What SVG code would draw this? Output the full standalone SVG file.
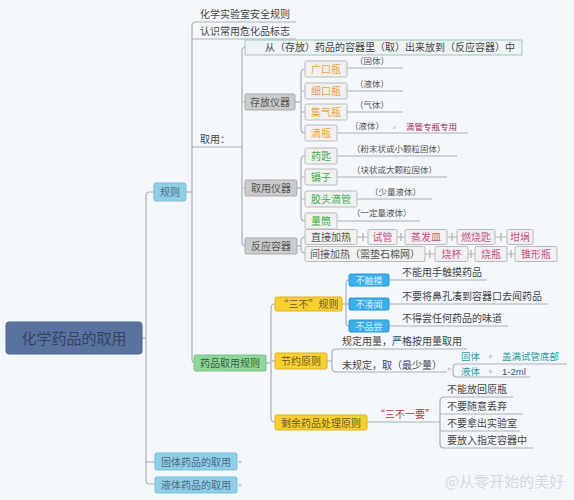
<svg xmlns="http://www.w3.org/2000/svg" width="574" height="500" viewBox="0 0 574 500">
<style>
text{font-family:"Noto Sans CJK SC","Noto Sans",sans-serif;font-size:10px;fill:#444;}
.ln{fill:none;stroke:#a9afb5;stroke-width:1.2;}
.root{fill:#5a72a0;stroke:#4c6492;}
.blue1{fill:#8fcfe8;stroke:#7cbfd8;}
.green1{fill:#8ed79a;stroke:#78c486;}
.yel{fill:#f8d030;stroke:#dcb420;}
.gray{fill:#cbcbcb;stroke:#a9a9a9;}
.item{fill:#f1f1f1;stroke:#b9b9b9;}
.big{fill:#eef4f4;stroke:#9cc4c4;}
.blue2{fill:#3ab0ea;stroke:#2a98d0;}
.c{text-anchor:middle;}
.t1{fill:#4d6b80;}
.org{fill:#eea43c;}
.grn{fill:#3cae48;}
.pnk{fill:#c8508a;}
.par{font-size:8.5px;fill:#555;}
.wt{fill:#dcecfa;}
.dot{fill:#c4c8cc;}
.tl{fill:#2a9aa0;font-size:9.5px;}
</style>
<rect width="574" height="500" fill="#f4f8fc"/>

<g id="connectors">
  <path class="ln" d="M142,338 H146"/>
  <path class="ln" d="M154,192 H150 Q146,192 146,196 V480 Q146,484 150,484 H155"/>
  <path class="ln" d="M146,462 H155"/>
  <path class="ln" d="M186,192 H192"/>
  <path class="ln" d="M296,22 H196 Q192,22 192,26 V359 Q192,363 196,363 H194"/>
  <path class="ln" d="M192,39 H296"/>
  <path class="ln" d="M192,147 H242"/>
  <path class="ln" d="M245,47 H246 Q242,47 242,51 V242 Q242,246 246,246"/>
  <path class="ln" d="M242,102 H245 M242,188 H245"/>
  <path class="ln" d="M295,102 H301"/>
  <path class="ln" d="M305,69 Q301,69 301,73 V129 Q301,133 305,133"/>
  <path class="ln" d="M301,91 H305 M301,112 H305"/>
  <path class="ln" d="M347,68 H403 M347,91 H403 M347,112 H403 M337,133 H468"/>
  <path class="ln" d="M297,188 H301"/>
  <path class="ln" d="M305,156 Q301,156 301,160 V217 Q301,221 305,221"/>
  <path class="ln" d="M301,177 H305 M301,199 H305"/>
  <path class="ln" d="M337,156 H457 M337,177 H447 M357,199 H432 M337,221 H420"/>
  <path class="ln" d="M297,246 H301"/>
  <path class="ln" d="M305,237 Q301,237 301,241 V249 Q301,253 305,253"/>
  <path class="ln" d="M357,237 H368 M363,233 V241 M397,237 H405 M401,233 V241 M447,237 H457 M452,233 V241 M495,237 H507 M501,233 V241"/>
  <path class="ln" d="M425,254 H435 M430,250 V258 M468,254 H475 M471,250 V258 M507,254 H515 M511,250 V258"/>
  <path class="ln" d="M266,363 H271"/>
  <path class="ln" d="M275,304 Q271,304 271,308 V418 Q271,422 275,422"/>
  <path class="ln" d="M271,361 H275"/>
  <path class="ln" d="M342,304 H346"/>
  <path class="ln" d="M349,280 Q346,280 346,284 V322 Q346,326 349,326"/>
  <path class="ln" d="M346,304 H349"/>
  <path class="ln" d="M389,280 H487 M389,304 H548 M389,326 H508"/>
  <path class="ln" d="M327,361 H332"/>
  <path class="ln" d="M467,349 H336 Q332,349 332,353 V368 Q332,372 336,372 H447"/>
  <path class="ln" d="M567,364 H457 Q453,364 453,368 V373 Q453,377 457,377 H530"/>
  <path class="ln" d="M367,422 H436"/>
  <path class="ln" d="M513,397 H444 Q440,397 440,401 V444 Q440,448 444,448 H533"/>
  <path class="ln" d="M436,422 H440 M440,414 H523 M440,431 H520"/>
</g>

<g id="root"><rect class="root" x="6" y="322" width="136" height="32" rx="3"/><text class="c" x="74" y="343.5" style="font-size:15px;fill:#34425e">化学药品的取用</text></g>

<g id="n-guize"><rect class="blue1" x="154" y="183" width="32" height="18" rx="2"/><text class="c t1" x="170" y="195.5">规则</text><circle class="dot" cx="190" cy="192" r="1.5"/></g>
<g id="n-safe"><text x="200" y="18">化学实验室安全规则</text></g>
<g id="n-sign"><text x="200" y="35">认识常用危化品标志</text></g>
<g id="n-quyong"><text x="200" y="143">取用：</text></g>
<g id="n-big"><rect class="big" x="245" y="40" width="277" height="15"/><text class="c" x="390" y="51">从（存放）药品的容器里（取）出来放到（反应容器）中</text></g>

<g id="n-cunfang"><rect class="gray" x="245" y="94" width="50" height="16" rx="1.5"/><text class="c" x="270" y="106" style="fill:#555">存放仪器</text></g>
<g id="n-guangkou"><rect class="item" x="305" y="61" width="42" height="16" rx="1.5"/><text class="c org" x="326" y="73">广口瓶</text><text class="par" x="355" y="64">（固体）</text></g>
<g id="n-xikou"><rect class="item" x="305" y="83" width="42" height="16" rx="1.5"/><text class="c org" x="326" y="95">细口瓶</text><text class="par" x="355" y="87">（液体）</text></g>
<g id="n-jiqi"><rect class="item" x="305" y="104" width="42" height="16" rx="1.5"/><text class="c org" x="326" y="116">集气瓶</text><text class="par" x="355" y="108">（气体）</text></g>
<g id="n-diping"><rect class="item" x="305" y="125" width="32" height="16" rx="1.5"/><text class="c org" x="321" y="137">滴瓶</text><text class="par" x="350" y="129">（液体）</text><rect x="393" y="126" width="3" height="3" fill="#d8dadc"/><text class="par" x="406" y="130" style="fill:#9a2a5a">滴管专瓶专用</text></g>

<g id="n-quyongyq"><rect class="gray" x="245" y="180" width="52" height="16" rx="1.5"/><text class="c" x="271" y="192" style="fill:#555">取用仪器</text></g>
<g id="n-yaochi"><rect class="item" x="305" y="148" width="32" height="16" rx="1.5"/><text class="c grn" x="321" y="160">药匙</text><text class="par" x="352" y="152">（粉末状或小颗粒固体）</text></g>
<g id="n-niezi"><rect class="item" x="305" y="169" width="32" height="16" rx="1.5"/><text class="c grn" x="321" y="181">镊子</text><text class="par" x="352" y="173">（块状或大颗粒固体）</text></g>
<g id="n-jiaotou"><rect class="item" x="305" y="191" width="52" height="16" rx="1.5"/><text class="c grn" x="331" y="203">胶头滴管</text><text class="par" x="370" y="195">（少量液体）</text></g>
<g id="n-liangtong"><rect class="item" x="305" y="213" width="32" height="16" rx="1.5"/><text class="c grn" x="321" y="225">量筒</text><text class="par" x="352" y="216">（一定量液体）</text></g>

<g id="n-fanying"><rect class="gray" x="245" y="238" width="52" height="16" rx="1.5"/><text class="c" x="271" y="250" style="fill:#555">反应容器</text></g>
<g id="n-zhijie"><rect class="item" x="305" y="229.5" width="52" height="15" rx="1.5"/><text class="c" x="331" y="241" style="fill:#555">直接加热</text></g>
<g id="n-shiguan"><rect class="item" x="368" y="229.5" width="29" height="15" rx="1.5"/><text class="c pnk" x="382.5" y="241">试管</text></g>
<g id="n-zhengfa"><rect class="item" x="405" y="229.5" width="42" height="15" rx="1.5"/><text class="c pnk" x="426" y="241">蒸发皿</text></g>
<g id="n-ranshao"><rect class="item" x="457" y="229.5" width="38" height="15" rx="1.5"/><text class="c pnk" x="476" y="241">燃烧匙</text></g>
<g id="n-ganguo"><rect class="item" x="507" y="229.5" width="26" height="15" rx="1.5"/><text class="c pnk" x="520" y="241">坩埚</text></g>
<g id="n-jianjie"><rect class="item" x="305" y="246.5" width="120" height="15" rx="1.5"/><text class="c" x="365" y="258" style="fill:#555">间接加热（需垫石棉网）</text></g>
<g id="n-shaobei"><rect class="item" x="435" y="246.5" width="33" height="15" rx="1.5"/><text class="c pnk" x="451.5" y="258">烧杯</text></g>
<g id="n-shaoping"><rect class="item" x="475" y="246.5" width="32" height="15" rx="1.5"/><text class="c pnk" x="491" y="258">烧瓶</text></g>
<g id="n-zhuixing"><rect class="item" x="515" y="246.5" width="42" height="15" rx="1.5"/><text class="c pnk" x="536" y="258">锥形瓶</text></g>

<g id="n-yaopin"><rect class="green1" x="194" y="355" width="72" height="16" rx="1.5"/><text class="c" x="230" y="367" style="fill:#3b5a40">药品取用规则</text></g>
<g id="n-sanbu"><rect class="yel" x="275" y="297" width="67" height="14" rx="1.5"/><text class="c" x="308.5" y="308" style="fill:#6a5a20">“三不”规则</text></g>
<g id="n-buchumo"><rect class="blue2" x="349" y="274" width="40" height="12" rx="1.5"/><text class="c wt" x="369" y="284" style="font-size:9px">不触摸</text><text x="402" y="276">不能用手触摸药品</text></g>
<g id="n-bucouwen"><rect class="blue2" x="349" y="298" width="40" height="12" rx="1.5"/><text class="c wt" x="369" y="308" style="font-size:9px">不凑闻</text><text x="402" y="300">不要将鼻孔凑到容器口去闻药品</text></g>
<g id="n-bupinchang"><rect class="blue2" x="349" y="320" width="40" height="12" rx="1.5"/><text class="c wt" x="369" y="330" style="font-size:9px">不品尝</text><text x="402" y="322">不得尝任何药品的味道</text></g>

<g id="n-jieyue"><rect class="yel" x="275" y="353" width="52" height="16" rx="1.5"/><text class="c" x="301" y="365" style="fill:#6a5a20">节约原则</text></g>
<g id="n-guiding"><text x="342" y="345">规定用量，严格按用量取用</text></g>
<g id="n-weiguiding"><text x="342" y="369">未规定，取（最少量）</text><circle class="dot" cx="449" cy="369" r="1.5"/></g>
<g id="n-guti"><text class="tl" x="461" y="360">固体</text><rect x="489" y="355" width="3" height="3" fill="#d0d4d6"/><text class="tl" x="502" y="360">盖满试管底部</text></g>
<g id="n-yeti"><text class="tl" x="461" y="375">液体</text><rect x="489" y="370" width="3" height="3" fill="#d0d4d6"/><text x="502" y="375" style="fill:#1d4f86;font-family:'Liberation Sans',sans-serif;font-size:9.5px">1-2ml</text></g>

<g id="n-shengyu"><rect class="yel" x="275" y="415" width="92" height="15" rx="1.5"/><text class="c" x="321" y="426.5" style="fill:#6a5a20">剩余药品处理原则</text></g>
<g id="n-sanbuyiyao"><text class="c" x="405" y="418" style="fill:#b03a3a">“三不一要”</text></g>
<g id="n-r1"><text x="447" y="393">不能放回原瓶</text></g>
<g id="n-r2"><text x="447" y="410">不要随意丢弃</text></g>
<g id="n-r3"><text x="447" y="427">不要拿出实验室</text></g>
<g id="n-r4"><text x="447" y="444">要放入指定容器中</text></g>

<g id="n-guti2"><rect class="blue1" x="155" y="453" width="82" height="17" rx="1.5"/><text class="c t1" x="196" y="465.5">固体药品的取用</text><circle class="dot" cx="240" cy="462" r="1.5"/></g>
<g id="n-yeti2"><rect class="blue1" x="155" y="477" width="82" height="16" rx="1.5"/><text class="c t1" x="196" y="489">液体药品的取用</text><circle class="dot" cx="240" cy="485" r="1.5"/></g>

<g id="watermark"><text x="445" y="487" style="font-size:15px;fill:#d6d9dc">@从零开始的美好</text></g>
</svg>
